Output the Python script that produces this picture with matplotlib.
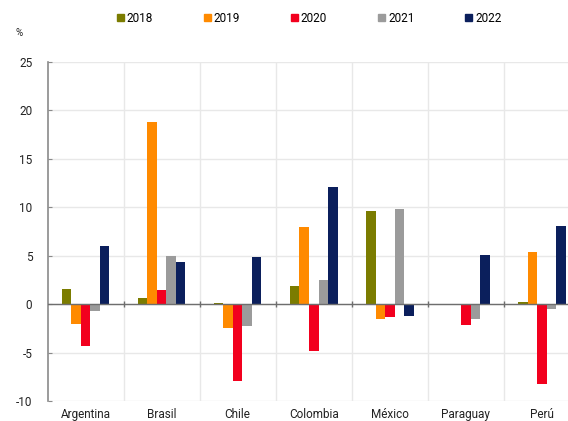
import numpy as np
import matplotlib.pyplot as plt
from matplotlib.patches import Patch

plt.rcParams['font.family'] = ['Roboto', 'DejaVu Sans']
plt.rcParams['axes.unicode_minus'] = False

# Data (%)
countries = ["Argentina", "Brasil", "Chile", "Colombia", "México", "Paraguay", "Perú"]
years = ["2018", "2019", "2020", "2021", "2022"]
v2018 = [1.6, 0.65, 0.1, 1.85, 9.6, np.nan, 0.2]
v2019 = [-2.0, 18.8, -2.5, 7.95, -1.5, np.nan, 5.35]
v2020 = [-4.3, 1.45, -7.9, -4.85, -1.3, -2.2, -8.2]
v2021 = [-0.75, 5.0, -2.3, 2.5, 9.8, -1.55, -0.55]
v2022 = [6.0, 4.35, 4.85, 12.1, -1.25, 5.1, 8.1]
colors = ["#7b7c00", "#ff8a00", "#f2001e", "#9b9b9b", "#0b1f5c"]

series = [v2018, v2019, v2020, v2021, v2022]

W, H = 568, 421
fig = plt.figure(figsize=(W / 100, H / 100), dpi=100)
# axes runs past the right edge, as in the (cropped) original
ax = fig.add_axes([47.5 / W, 20 / H, (580 - 47.5) / W, 339 / H])

x = np.arange(len(countries))
bw = 0.125
for i, (vals, c) in enumerate(zip(series, colors)):
    ax.bar(x + (i - 2) * bw, vals, width=bw, color=c, zorder=3)

ax.set_xlim(-0.5, len(countries) - 0.5)
ax.set_ylim(-10, 25)
ax.set_yticks(np.arange(-10, 26, 5))
ax.set_xticks(x)
ax.set_xticklabels(countries, fontsize=8.5, color="#222222")
ax.set_xticks(x[:-1] + 0.5, minor=True)

ax.grid(axis="y", which="major", color="#e8e8e8", lw=1, zorder=0)
ax.grid(axis="x", which="minor", color="#e8e8e8", lw=1, zorder=0)
ax.axhline(0, color="#6e6e6e", lw=1, zorder=4)
ax.plot(x[:-1] + 0.5, np.zeros(len(x) - 1), ls="none", marker="|",
        ms=4, color="#6e6e6e", zorder=4)

for s in ["top", "right", "bottom"]:
    ax.spines[s].set_visible(False)
ax.spines["left"].set_color("#8a8a8a")
ax.spines["left"].set_linewidth(1.2)
ax.tick_params(axis="x", which="both", length=0, pad=5)
ax.tick_params(axis="y", direction="in", length=3, color="#8a8a8a",
               labelsize=8.5, labelcolor="#222222", pad=11)

fig.text(16 / W, 1 - 33 / H, "%", fontsize=7, color="#222222", va="center")

handles = [Patch(color=c, label=y) for c, y in zip(colors, years)]
fig.legend(handles=handles, loc="center", bbox_to_anchor=(309 / W, 1 - 18 / H),
           ncol=5, frameon=False, fontsize=8.5, handlelength=0.6, handleheight=0.6,
           handletextpad=0.25, columnspacing=4.3)

fig.savefig("out.png", dpi=100)
